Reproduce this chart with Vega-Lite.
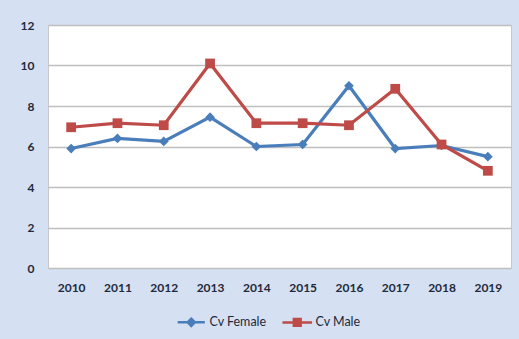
{
  "$schema": "https://vega.github.io/schema/vega-lite/v6.json",
  "width": 463,
  "height": 243,
  "autosize": "none",
  "padding": {"left": 48, "top": 25, "right": 8, "bottom": 71},
  "background": "#d5e0f2",
  "config": {
    "view": {"fill": "white", "stroke": "#c8c8c8", "strokeWidth": 1},
    "axis": {"labelFont": "Lato", "labelFontSize": 12, "labelFontWeight": "bold", "labelColor": "#1f2a3a", "ticks": false, "domain": false, "title": null}
  },
  "data": {
    "values": [
      {"year": "2010", "series": "Cv Female", "value": 5.9},
      {"year": "2011", "series": "Cv Female", "value": 6.4},
      {"year": "2012", "series": "Cv Female", "value": 6.25},
      {"year": "2013", "series": "Cv Female", "value": 7.45},
      {"year": "2014", "series": "Cv Female", "value": 6.0},
      {"year": "2015", "series": "Cv Female", "value": 6.1},
      {"year": "2016", "series": "Cv Female", "value": 9.0},
      {"year": "2017", "series": "Cv Female", "value": 5.9},
      {"year": "2018", "series": "Cv Female", "value": 6.05},
      {"year": "2019", "series": "Cv Female", "value": 5.5},
      {"year": "2010", "series": "Cv Male", "value": 6.95},
      {"year": "2011", "series": "Cv Male", "value": 7.15},
      {"year": "2012", "series": "Cv Male", "value": 7.05},
      {"year": "2013", "series": "Cv Male", "value": 10.1},
      {"year": "2014", "series": "Cv Male", "value": 7.15},
      {"year": "2015", "series": "Cv Male", "value": 7.15},
      {"year": "2016", "series": "Cv Male", "value": 7.05},
      {"year": "2017", "series": "Cv Male", "value": 8.85},
      {"year": "2018", "series": "Cv Male", "value": 6.1},
      {"year": "2019", "series": "Cv Male", "value": 4.8}
    ]
  },
  "encoding": {
    "x": {"field": "year", "type": "ordinal", "scale": {"type": "point", "padding": 0.5}, "axis": {"labelAngle": 0, "labelPadding": 14, "grid": false}},
    "y": {"field": "value", "type": "quantitative", "scale": {"domain": [0, 12], "nice": false}, "axis": {"values": [0, 2, 4, 6, 8, 10, 12], "labelPadding": 14, "grid": true, "gridColor": "#bfbfbf", "gridWidth": 1.5}},
    "color": {
      "field": "series", "type": "nominal",
      "scale": {"domain": ["Cv Female", "Cv Male"], "range": ["#4a7ebb", "#be4b48"]},
      "legend": {
        "title": null, "orient": "none", "legendX": 137, "legendY": 291, "direction": "horizontal",
        "labelFont": "Lato", "labelFontSize": 12.5, "labelColor": "#1f2a3a", "symbolSize": 64, "labelOffset": 12, "columnPadding": 10, "padding": 0,
        "encode": {"symbols": {"update": {
          "shape": {"signal": "datum.value === 'Cv Female' ? 'M-3.4,0H3.4M0,-0.9L0.9,0L0,0.9L-0.9,0Z' : 'M-3.7,0H3.7M-0.85,-0.85H0.85V0.85H-0.85Z'"},
          "stroke": {"signal": "datum.value === 'Cv Female' ? '#4a7ebb' : '#be4b48'"},
          "fill": {"signal": "datum.value === 'Cv Female' ? '#4a7ebb' : '#be4b48'"},
          "strokeWidth": {"value": 2.5},
          "size": {"value": 64},
          "opacity": {"value": 1},
          "fillOpacity": {"value": 1},
          "strokeOpacity": {"value": 1}
        }}}
      }
    }
  },
  "layer": [
    {"mark": {"type": "line", "strokeWidth": 3.2}},
    {"transform": [{"filter": "datum.series === 'Cv Female'"}],
     "mark": {"type": "point", "filled": true, "opacity": 1, "size": 95, "shape": "diamond"}},
    {"transform": [{"filter": "datum.series === 'Cv Male'"}],
     "mark": {"type": "point", "filled": true, "opacity": 1, "size": 95, "shape": "square"}}
  ]
}
